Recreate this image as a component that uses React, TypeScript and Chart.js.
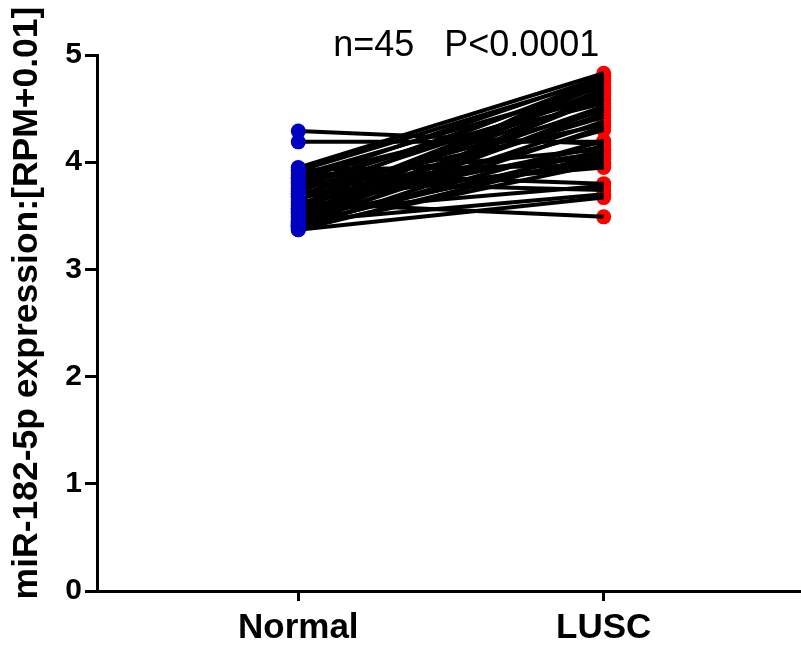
import React, { useEffect, useRef } from "react";
import { Chart, registerables } from "chart.js";

Chart.register(...registerables);

const categories = ["Normal", "LUSC"];
const yTicks = [0, 1, 2, 3, 4, 5];
const annotation = "n=45   P<0.0001";
const yTitle = "miR-182-5p expression:[RPM+0.01]";

const normalValues = [
  4.29, 4.19, 3.95, 3.93, 3.92, 3.9, 3.88, 3.86, 3.85, 3.83, 3.81, 3.8, 3.78, 3.76, 3.75,
  3.73, 3.71, 3.7, 3.68, 3.67, 3.65, 3.63, 3.62, 3.6, 3.59, 3.57, 3.56, 3.54, 3.53, 3.52,
  3.5, 3.49, 3.48, 3.46, 3.45, 3.44, 3.43, 3.42, 3.41, 3.4, 3.4, 3.39, 3.38, 3.37, 3.37,
];
const luscValues = [
  4.17, 4.19, 4.83, 3.97, 4.78, 3.8, 4.7, 4.55, 4.12, 4.8, 3.74, 4.62, 4.05, 4.74, 4.35,
  4.66, 3.95, 4.48, 4.78, 4.09, 4.58, 4.0, 3.49, 4.72, 4.42, 4.15, 4.68, 3.78, 4.52, 4.3,
  4.76, 4.03, 4.45, 4.6, 3.7, 4.81, 4.38, 4.11, 4.64, 4.2, 4.5, 3.99, 4.33, 3.67, 4.07,
];

const FONT = '"Liberation Sans", Arial, Helvetica, sans-serif';

export default function App() {
  const ref = useRef<HTMLCanvasElement | null>(null);

  useEffect(() => {
    if (!ref.current) return;
    const lineSets = normalValues.map((n, i) => ({
      type: "scatter" as const,
      data: [
        { x: 0, y: n },
        { x: 1, y: luscValues[i] },
      ],
      showLine: true,
      borderColor: "#000000",
      borderWidth: 4,
      pointRadius: 0,
      pointHoverRadius: 0,
      order: 2,
    }));
    const textPlugin = {
      id: "topText",
      afterDraw(chart: any) {
        const ctx = chart.ctx;
        const xs = chart.scales.x;
        ctx.save();
        ctx.font = `36px ${FONT}`;
        ctx.fillStyle = "#000";
        ctx.textAlign = "center";
        ctx.textBaseline = "middle";
        ctx.fillText(annotation, xs.getPixelForValue(0.55), 46);
        ctx.translate(27, 303);
        ctx.rotate(-Math.PI / 2);
        ctx.font = `bold 35.5px ${FONT}`;
        ctx.fillText(yTitle, 0, 0);
        ctx.restore();
      },
    };
    const chart = new Chart(ref.current, {
      type: "scatter",
      data: {
        datasets: [
          {
            data: normalValues.map((v) => ({ x: 0, y: v })),
            backgroundColor: "#0000c0",
            borderColor: "#0000c0",
            pointRadius: 7.5,
            borderWidth: 0,
            showLine: false,
            order: 1,
          },
          ...lineSets,
          {
            data: luscValues.map((v) => ({ x: 1, y: v })),
            backgroundColor: "#ff0000",
            borderColor: "#ff0000",
            pointRadius: 7.5,
            borderWidth: 0,
            showLine: false,
            order: 3,
          },
        ] as any,
      },
      options: {
        animation: false,
        responsive: true,
        maintainAspectRatio: false,
        layout: { autoPadding: false, padding: { top: 55, right: 0, left: 0, bottom: 0 } },
        plugins: {
          legend: { display: false },
          tooltip: { enabled: false },
          title: { display: false },
        },
        scales: {
          x: {
            type: "linear",
            min: -0.659,
            max: 1.646,
            afterBuildTicks: (scale: any) => {
              scale.ticks = categories.map((_, i) => ({ value: i }));
            },
            afterFit: (scale: any) => {
              scale.height = 60;
            },
            ticks: {
              callback: (v: any) => categories[v as number] ?? "",
              font: { size: 35, weight: "bold", family: FONT },
              color: "#000",
              padding: 6,
              maxRotation: 0,
              autoSkip: false,
            },
            grid: {
              drawOnChartArea: false,
              drawTicks: true,
              tickLength: 10,
              lineWidth: 3,
              color: "#000",
            },
            border: { display: true, width: 3, color: "#000" },
          },
          y: {
            min: 0,
            max: 5,
            afterBuildTicks: (scale: any) => {
              scale.ticks = yTicks.map((v) => ({ value: v }));
            },
            afterFit: (scale: any) => {
              scale.width = 97;
            },
            ticks: {
              font: { size: 30, weight: "bold", family: FONT },
              color: "#000",
              padding: 3,
            },
            grid: {
              drawOnChartArea: false,
              drawTicks: true,
              tickLength: 12,
              lineWidth: 3,
              color: "#000",
            },
            border: { display: true, width: 3, color: "#000" },
          },
        },
      } as any,
      plugins: [textPlugin],
    });
    return () => chart.destroy();
  }, []);

  return (
    <div style={{ position: "absolute", left: 0, top: 0, width: 801, height: 651, background: "#fff" }}>
      <canvas ref={ref} />
    </div>
  );
}
